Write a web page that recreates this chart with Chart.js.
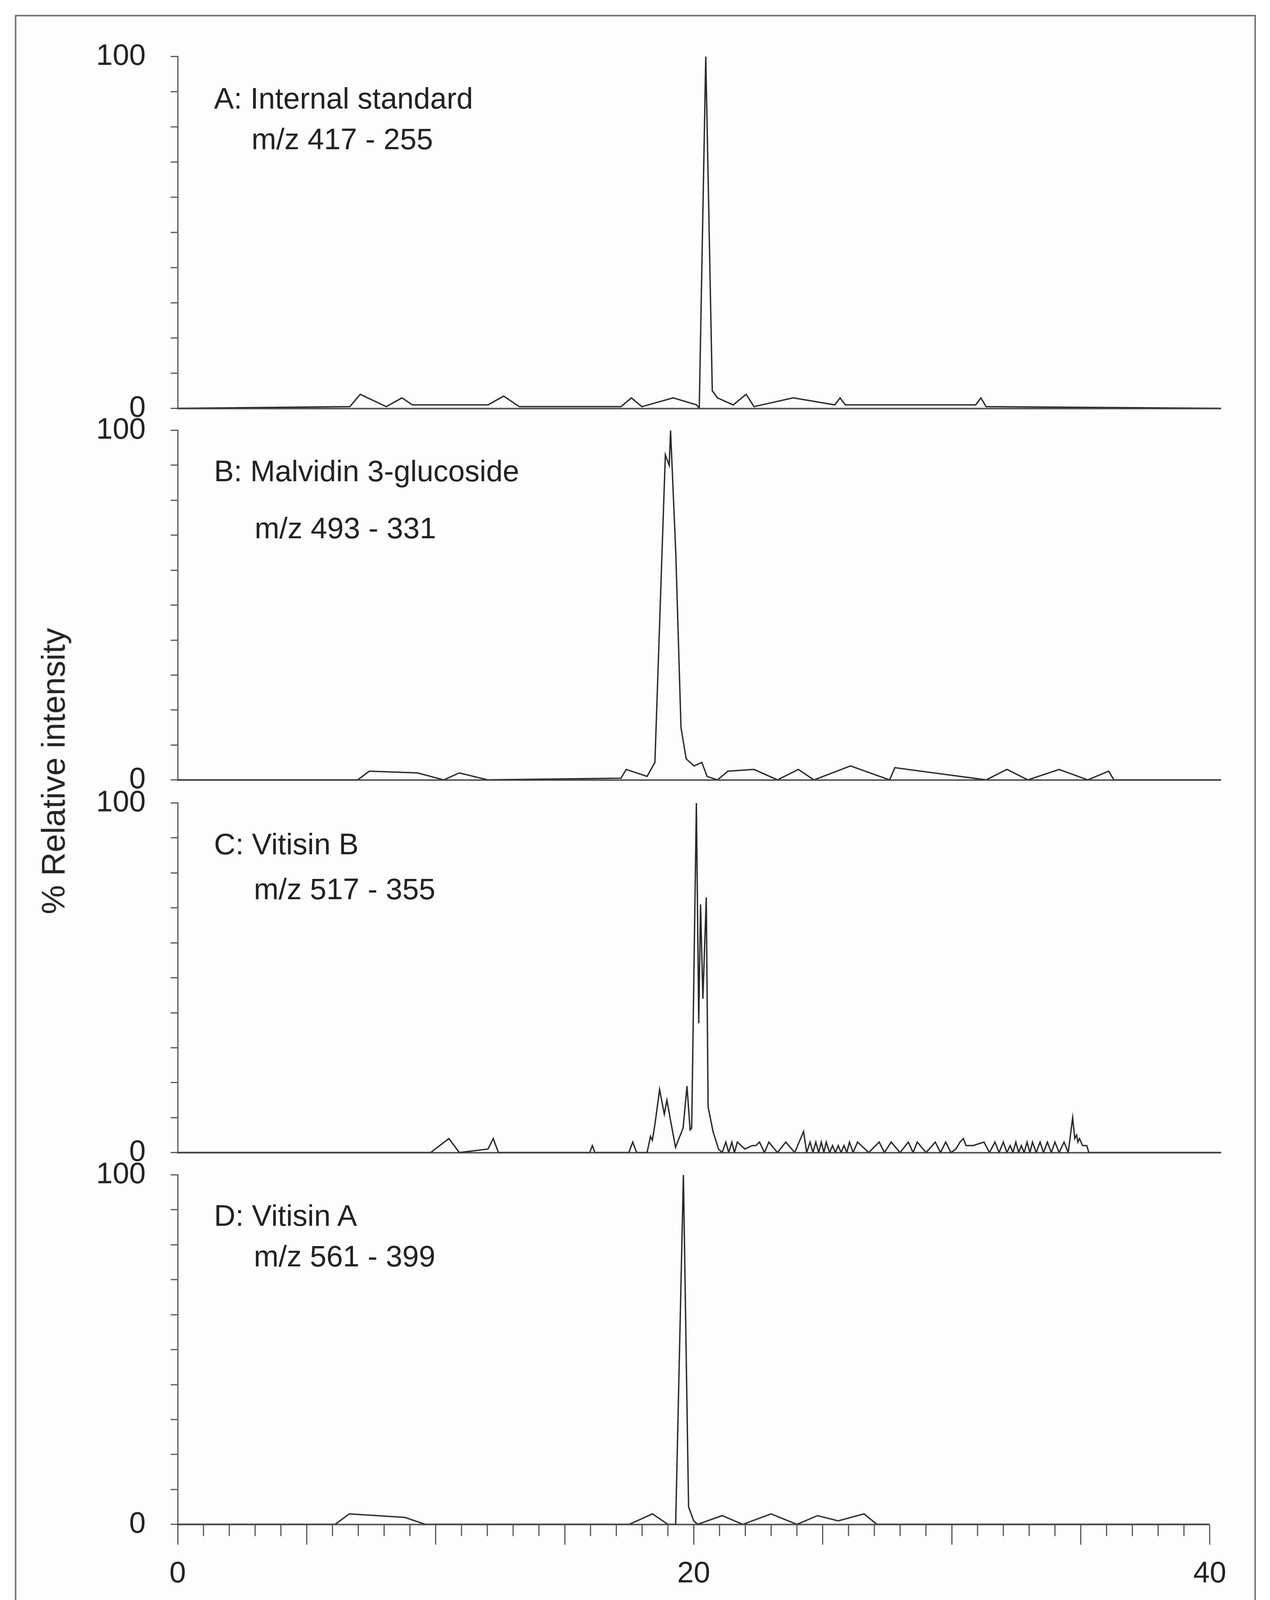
<!DOCTYPE html>
<html lang="en">
<head>
<meta charset="UTF-8" />
<title>Chromatograms</title>
<script src="https://cdn.jsdelivr.net/npm/chart.js"></script>
<style>
  body { margin: 0; width: 3252px; height: 4290px; background: #fff; position: relative; overflow: hidden; font-family: "Liberation Sans", Arial, sans-serif; }
  .frame { position: absolute; left: 38px; top: 38px; width: 3170px; height: 4212px; border: 4px solid #777; background: #fdfdfd; }
  .wrap { position: absolute; left: 40px; width: 3130px; }
  .lbl { position: absolute; font-size: 76px; color: #222; white-space: nowrap; line-height: 1; }
  .ytitle { position: absolute; left: 137px; top: 1974px; font-size: 84px; color: #222; white-space: nowrap;
            transform: translate(-50%, -50%) rotate(-90deg); }
</style>
</head>
<body>
<div class="frame"></div>
<div class="wrap" id="wA"><canvas id="cA"></canvas></div>
<div class="wrap" id="wB"><canvas id="cB"></canvas></div>
<div class="wrap" id="wC"><canvas id="cC"></canvas></div>
<div class="wrap" id="wD"><canvas id="cD"></canvas></div>

<div class="lbl" style="left:548px;top:214px">A: Internal standard</div>
<div class="lbl" style="left:644px;top:318px">m/z 417 - 255</div>
<div class="lbl" style="left:548px;top:1168px">B: Malvidin 3-glucoside</div>
<div class="lbl" style="left:652px;top:1314px">m/z 493 - 331</div>
<div class="lbl" style="left:548px;top:2123px">C: Vitisin B</div>
<div class="lbl" style="left:650px;top:2238px">m/z 517 - 355</div>
<div class="lbl" style="left:548px;top:3074px">D: Vitisin A</div>
<div class="lbl" style="left:650px;top:3178px">m/z 561 - 399</div>
<div class="ytitle">% Relative intensity</div>

<script>
// retention time (min) and % relative intensity per trace
const timeA = [0, 6.6, 7.0, 8.0, 8.6, 9.0, 11.9, 12.5, 13.1, 17.0, 17.4, 17.8, 19.0, 19.9, 20.0, 20.25, 20.5, 20.7, 21.3, 21.8, 22.1, 23.6, 25.2, 25.4, 25.6, 30.6, 30.8, 31.0, 40];
const valA  = [0, 0.5, 4, 0.5, 3, 1, 1, 3.5, 0.5, 0.5, 3, 0.5, 3, 1, 0, 100, 5, 3, 1, 4, 0.5, 3, 1, 3, 1, 1, 3, 0.5, 0];

const timeB = [0, 6.9, 7.35, 9.2, 10.2, 10.8, 11.9, 17.0, 17.2, 18.0, 18.3, 18.55, 18.7, 18.85, 18.9, 19.1, 19.3, 19.5, 19.8, 20.1, 20.3, 20.7, 21.1, 22.1, 23.0, 23.8, 24.4, 25.8, 27.3, 27.5, 31.0, 31.8, 32.6, 33.8, 34.9, 35.7, 35.9, 40];
const valB  = [0, 0, 2.5, 2, 0, 2, 0, 0.5, 3, 1, 5, 60, 93, 90, 100, 65, 15, 6, 4, 5, 1, 0, 2.5, 3, 0, 3, 0, 4, 0, 3.5, 0, 3, 0, 3, 0, 2.5, 0, 0];

const timeC = [0, 9.7, 10.4, 10.8, 11.9, 12.1, 12.3, 15.8, 15.9, 16.0, 17.3, 17.45, 17.6, 18.0, 18.13, 18.2, 18.3, 18.48, 18.66, 18.76, 18.88, 19.09, 19.38, 19.53, 19.65, 19.71, 19.89, 19.98, 20.05, 20.14, 20.27, 20.34, 20.53, 20.74, 20.88,
  21.02, 21.13, 21.25, 21.35, 21.46, 21.75, 22.03, 22.17, 22.31, 22.5, 22.67, 23.0, 23.32, 23.66, 24.0, 24.12, 24.25, 24.36, 24.47, 24.58, 24.68, 24.78, 24.87, 25.0, 25.11, 25.22, 25.33, 25.44, 25.55, 25.66, 25.76, 25.9, 26.07, 26.5,
  26.9, 27.1, 27.36, 27.7, 28.02, 28.2, 28.36, 28.7, 29.05, 29.25, 29.45, 29.65, 29.84, 30.0, 30.13, 30.23, 30.5, 30.92, 31.13, 31.34, 31.5, 31.66, 31.8, 31.92, 32.03, 32.14, 32.25, 32.35, 32.46, 32.57, 32.68, 32.78, 32.92, 33.07, 33.2, 33.35, 33.5, 33.64, 33.8, 33.99, 34.15, 34.32, 34.4, 34.47, 34.52, 34.58, 34.7, 34.86, 34.94, 40];
const valC  = [0, 0, 4, 0, 1, 4, 0, 0, 2, 0, 0, 3, 0, 0, 4.6, 3.5, 8, 18, 11, 15, 10, 1.5, 7, 19, 6.5, 7, 100, 37, 71, 44, 73, 13, 6, 1, 0,
  3, 0, 3, 0, 3, 1, 2, 2, 3, 0, 3, 0, 3, 0, 6, 0, 3, 0, 3, 0, 3, 0, 3, 0, 2, 0, 2, 0, 2, 0, 3, 0, 3, 0,
  3, 0, 3, 0, 3, 0, 3, 0, 3, 0, 3, 0, 1, 3, 4, 2, 2, 3, 0, 3, 0, 3, 0, 2, 0, 3, 0, 2, 0, 3, 0, 3, 0, 3, 0, 3, 0, 3, 0, 3, 0, 10, 4, 5, 3, 4, 2, 2, 0, 0];

const timeD = [0, 6.1, 6.65, 8.8, 9.6, 17.5, 18.4, 19.0, 19.3, 19.45, 19.6, 19.8, 20.0, 20.15, 21.1, 21.9, 23.0, 24.0, 24.8, 25.6, 26.6, 27.1, 40];
const valD  = [0, 0, 3, 2, 0, 0, 3, 0, 0, 50, 100, 5, 1, 0, 2.5, 0, 3, 0, 2.5, 1, 3, 0, 0];

const xTickLabels = [0, 20, 40];
const yTickLabels = [0, 100];

const ink = '#2a2a2a';
const axisCol = '#555';
const font = { family: '"Liberation Sans", Arial, sans-serif', size: 76 };

// minor x ticks every minute, drawn from the scale
const minorTicks = {
  id: 'minorTicks',
  afterDraw(chart) {
    if (!chart.options.plugins.minorTicks.on) return;
    const s = chart.scales.x, c = chart.ctx;
    c.save(); c.strokeStyle = axisCol; c.lineWidth = 3;
    for (let v = 0; v <= 40; v++) {
      if (v % 5 === 0) continue;
      const px = s.getPixelForValue(v);
      c.beginPath(); c.moveTo(px, s.top); c.lineTo(px, s.top + 30); c.stroke();
    }
    c.restore();
  }
};

// yTop/yBottom: wanted pixel rows of 100 and 0
function panel(id, yTop, yBottom, t, v, last) {
  const wrap = document.getElementById('w' + id);
  let H = (yBottom - yTop) + (last ? 330 : 120);
  wrap.style.top = '0px'; wrap.style.height = H + 'px';
  const chart = new Chart(document.getElementById('c' + id), {
    type: 'scatter',
    data: { datasets: [{ data: t.map((x, i) => ({ x, y: v[i] })), showLine: true, borderColor: ink, borderWidth: 3.5, pointRadius: 0, tension: 0 }] },
    plugins: [minorTicks],
    options: {
      responsive: true, maintainAspectRatio: false, animation: false, devicePixelRatio: 1,
      layout: { padding: { top: 0, right: 44, bottom: 0, left: 0 } },
      plugins: { legend: { display: false }, tooltip: { enabled: false }, minorTicks: { on: last } },
      scales: {
        x: {
          type: 'linear', min: 0, max: 40,
          border: { display: true, color: axisCol, width: 4 },
          grid: { display: last, drawOnChartArea: false, color: axisCol, tickLength: 52, tickWidth: 3 },
          ticks: { display: last, stepSize: 5, autoSkip: false, maxRotation: 0, padding: 30, color: '#222', font,
                   callback: val => xTickLabels.includes(val) ? String(val) : '' },
          title: { display: last, text: 'Retention time in minutes', color: '#222', font: { family: font.family, size: 90 }, padding: { top: 30, bottom: 10 } }
        },
        y: {
          min: 0, max: 100,
          border: { display: true, color: axisCol, width: 3 },
          grid: { drawOnChartArea: false, color: axisCol, tickLength: 18, tickWidth: 3 },
          ticks: { stepSize: 10, autoSkip: false, padding: 64, color: '#222', font,
                   callback: val => yTickLabels.includes(val) ? String(val) : '' },
          afterFit: s => { s.width = 415; }
        }
      }
    }
  });
  // fit the wrapper so the plot area lands on the wanted rows
  const loss = H - (chart.chartArea.bottom - chart.chartArea.top);
  H = (yBottom - yTop) + loss;
  wrap.style.height = H + 'px';
  chart.resize(3130, H);
  wrap.style.top = (yTop - chart.chartArea.top) + 'px';
}

panel('A', 145, 1045, timeA, valA, false);
panel('B', 1102, 1996, timeB, valB, false);
panel('C', 2056, 2950, timeC, valC, false);
panel('D', 3008, 3902, timeD, valD, true);
</script>
</body>
</html>
